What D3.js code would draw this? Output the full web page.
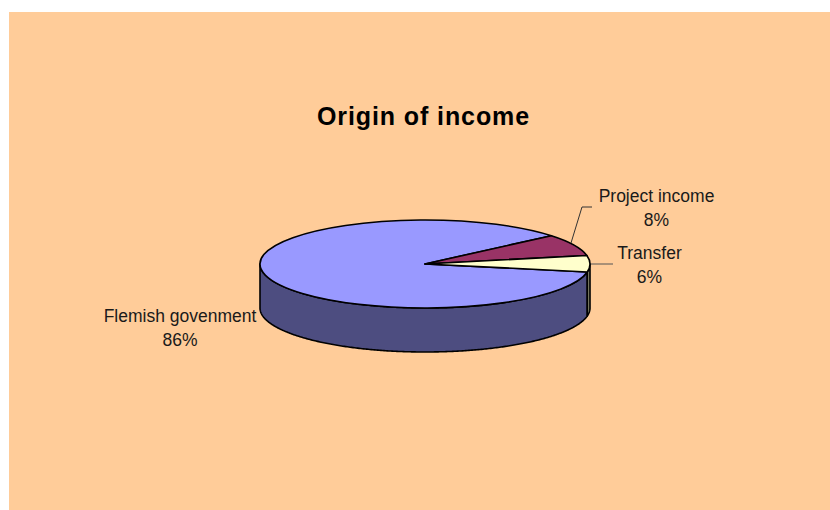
<!DOCTYPE html>
<html lang="en">
<head>
  <meta charset="utf-8">
  <title>Origin of income</title>
  <script src="https://d3js.org/d3.v7.min.js"></script>
  <style>
    html, body { margin: 0; background: #fff; }
    svg { display: block; }
    text { font-family: "Liberation Sans", Arial, sans-serif; fill: #1a1a1a; }
  </style>
</head>
<body>
  <script>
    var categories = ["Flemish govenment", "Project income", "Transfer"];
    var percents   = [86, 8, 6];
    var topColors  = ["#9999ff", "#993366", "#ffffcc"];
    var wallColors = ["#4d4d80", "#4d1a33", "#808066"];

    var width = 830, height = 510;
    var cx = 425, cy = 264, rx = 165, ry = 44, depth = 44;

    var svg = d3.select("body").append("svg")
      .attr("width", width)
      .attr("height", height);

    svg.append("rect")
      .attr("x", 9).attr("y", 12)
      .attr("width", width - 9).attr("height", height - 12)
      .attr("fill", "#ffcc99");

    svg.append("text")
      .attr("x", 423.5).attr("y", 125)
      .attr("text-anchor", "middle")
      .attr("font-size", 25)
      .attr("font-weight", "bold")
      .attr("letter-spacing", 0.9)
      .style("fill", "#000")
      .text("Origin of income");

    // angles are clockwise from 12 o'clock, the first slice starts past Transfer
    var pie = d3.pie().sort(null).startAngle(-259.6 * Math.PI / 180).endAngle(100.4 * Math.PI / 180);
    var slices = pie(percents);

    var x = d3.scaleLinear().domain([-1, 1]).range([cx - rx, cx + rx]);
    var y = d3.scaleLinear().domain([-1, 1]).range([cy - ry, cy + ry]);

    // the rim is only seen between 3 o'clock and 9 o'clock
    function wallAngles(s) {
      var out = [];
      for (var k = -1; k <= 1; k++) {
        var a0 = Math.max(s.startAngle, Math.PI / 2 + k * 2 * Math.PI);
        var a1 = Math.min(s.endAngle, 3 * Math.PI / 2 + k * 2 * Math.PI);
        if (a1 > a0) out.push(d3.range(a0, a1, 0.01).concat([a1]));
      }
      return out;
    }

    var wall = d3.area()
      .x(function(a) { return x(Math.sin(a)); })
      .y0(function(a) { return y(-Math.cos(a)); })
      .y1(function(a) { return y(-Math.cos(a)) + depth; });

    slices.forEach(function(s, i) {
      wallAngles(s).forEach(function(angles) {
        svg.append("path")
          .attr("d", wall(angles))
          .attr("fill", wallColors[i])
          .attr("stroke", "#000")
          .attr("stroke-width", 1.6)
          .attr("stroke-linejoin", "round");
      });
    });

    var arc = d3.arc().innerRadius(0).outerRadius(rx);

    svg.append("g")
      .attr("transform", "translate(" + cx + "," + cy + ") scale(1," + (ry / rx) + ")")
      .selectAll("path")
      .data(slices)
      .enter()
      .append("path")
      .attr("d", arc)
      .attr("fill", function(d, i) { return topColors[i]; })
      .attr("stroke", "#000")
      .attr("stroke-width", 1.6)
      .attr("stroke-linejoin", "round")
      .attr("vector-effect", "non-scaling-stroke");

    // leader lines
    var leader = d3.line();
    svg.append("path")
      .attr("d", leader([[571, 243], [582, 207], [592, 207]]))
      .attr("fill", "none").attr("stroke", "#333").attr("stroke-width", 1);
    svg.append("path")
      .attr("d", leader([[591, 264], [613, 264]]))
      .attr("fill", "none").attr("stroke", "#555").attr("stroke-width", 1);

    // data labels
    var labelPos = [[180, 322], [656.5, 202], [649.5, 259]];
    categories.forEach(function(c, i) {
      var t = svg.append("text")
        .attr("text-anchor", "middle")
        .attr("font-size", 17.5);
      t.append("tspan").attr("x", labelPos[i][0]).attr("y", labelPos[i][1]).text(c);
      t.append("tspan").attr("x", labelPos[i][0]).attr("y", labelPos[i][1] + 23.5).text(percents[i] + "%");
    });
  </script>
</body>
</html>
